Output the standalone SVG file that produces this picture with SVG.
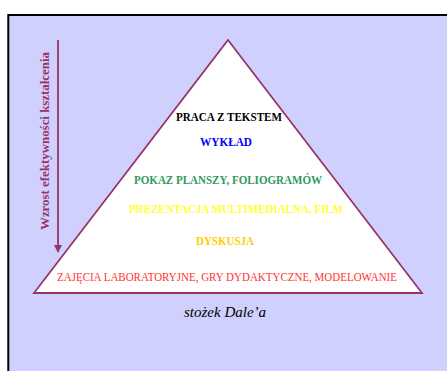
<svg xmlns="http://www.w3.org/2000/svg" width="447" height="371" viewBox="0 0 447 371">
<defs>
<style>
.t{font-family:'Liberation Serif',serif;font-size:12.5px;font-weight:bold;text-anchor:middle}
</style>
<marker id="ah" markerWidth="8" markerHeight="8" refX="7" refY="4" orient="auto" markerUnits="userSpaceOnUse">
<path d="M0,0 L8,4 L0,8 Z" fill="#993366"/>
</marker>
</defs>
<rect x="0" y="0" width="447" height="371" fill="#ffffff"/>
<rect x="8.3" y="15" width="450" height="370" fill="#D0D0FF" stroke="#000000" stroke-width="2"/>
<g id="pyramid">
<polygon points="228,40 422,293 34,293" fill="#ffffff" stroke="#993366" stroke-width="1.8"/>
</g>
<g id="connectors">
<line x1="58" y1="40" x2="58" y2="252" stroke="#993366" stroke-width="1.8" marker-end="url(#ah)"/>
</g>
<g id="axis-label">
<text transform="translate(49,141) rotate(-90)" class="t" fill="#993366" textLength="178" lengthAdjust="spacingAndGlyphs">Wzrost efektywności kształcenia</text>
</g>
<g id="level1"><text class="t" x="229" y="121" fill="#000000" textLength="106" lengthAdjust="spacingAndGlyphs">PRACA Z TEKSTEM</text></g>
<g id="level2"><text class="t" x="226" y="146" fill="#0000FF" textLength="52" lengthAdjust="spacingAndGlyphs">WYKŁAD</text></g>
<g id="level3"><text class="t" x="228" y="184" fill="#339966" textLength="188" lengthAdjust="spacingAndGlyphs">POKAZ PLANSZY, FOLIOGRAMÓW</text></g>
<g id="level4"><text class="t" x="236" y="213" fill="#FFFF33" textLength="214" lengthAdjust="spacingAndGlyphs">PREZENTACJA MULTIMEDIALNA, FILM</text></g>
<g id="level5"><text class="t" x="225" y="245" fill="#FFCC00" textLength="58" lengthAdjust="spacingAndGlyphs">DYSKUSJA</text></g>
<g id="level6"><text class="t" x="227" y="281" fill="#FF3333" style="font-weight:normal" textLength="340" lengthAdjust="spacingAndGlyphs">ZAJĘCIA LABORATORYJNE, GRY DYDAKTYCZNE, MODELOWANIE</text></g>
<g id="caption"><text x="225" y="317" font-family="Liberation Serif" font-size="15" font-style="italic" text-anchor="middle" fill="#000000">stożek Dale’a</text></g>
</svg>
